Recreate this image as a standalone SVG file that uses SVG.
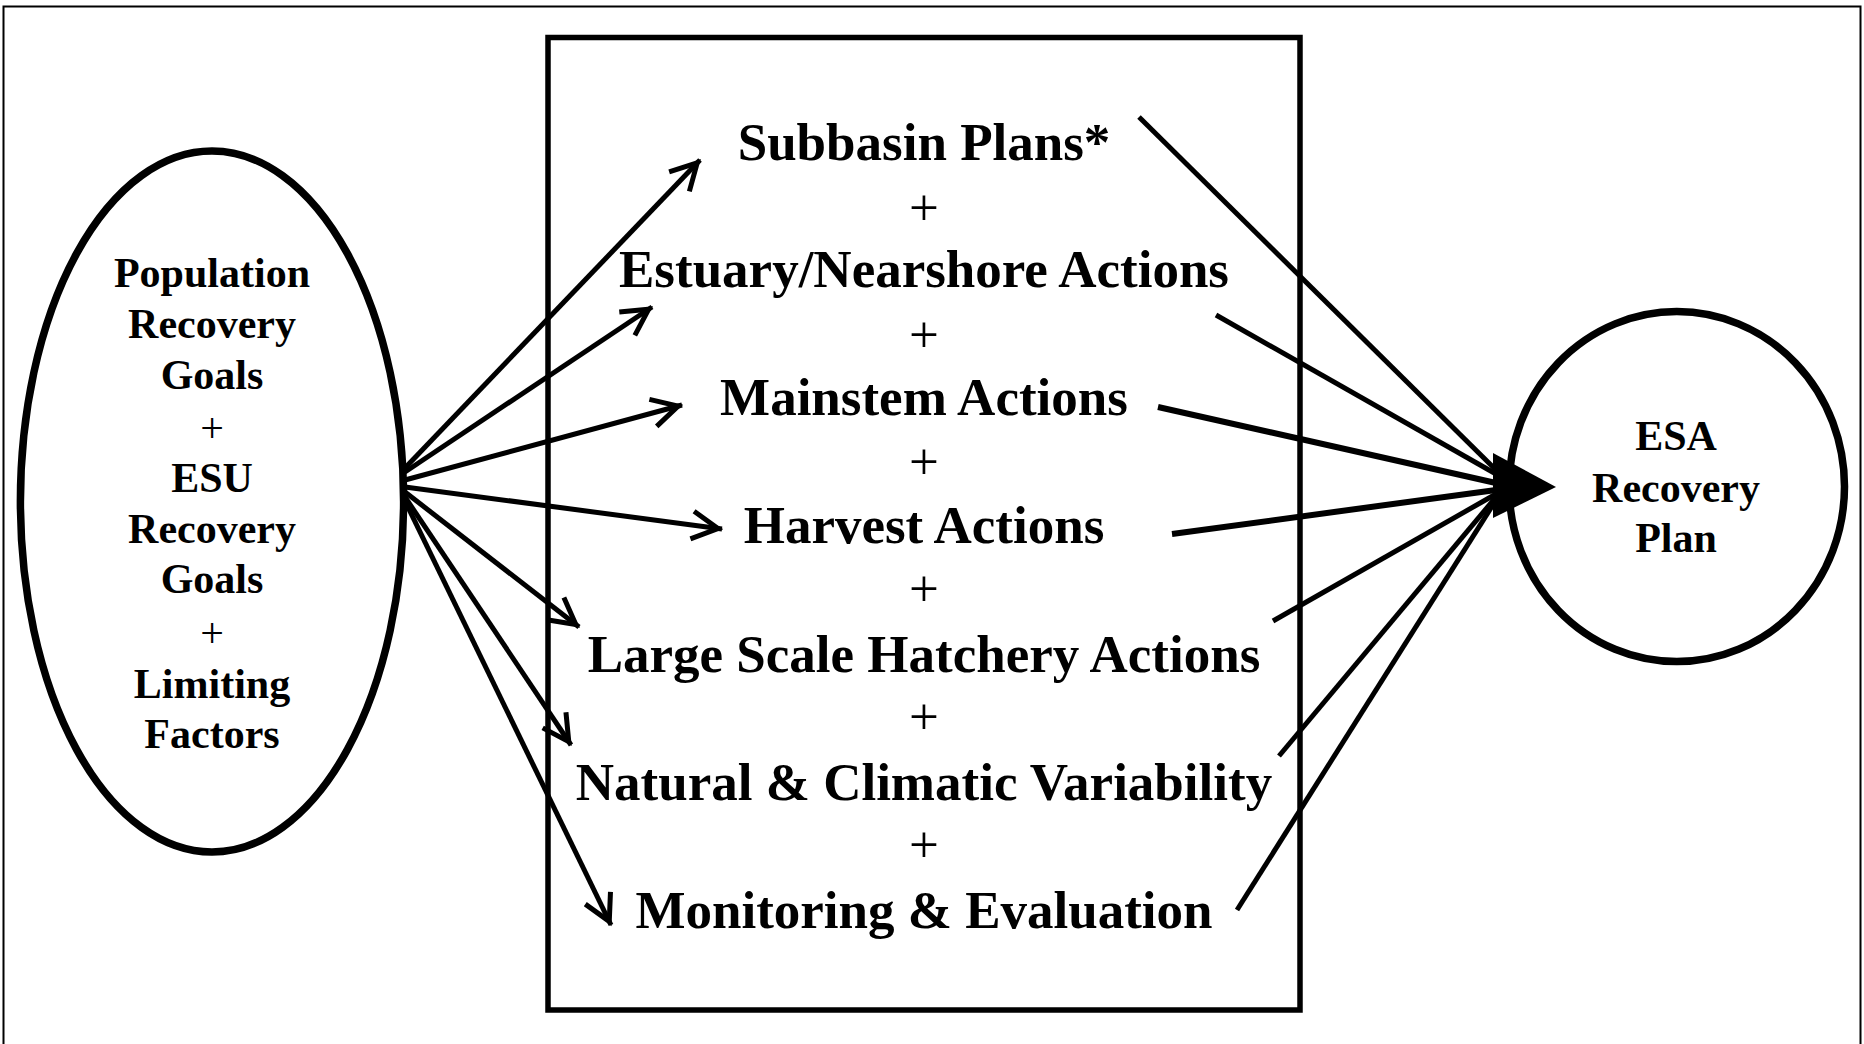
<svg xmlns="http://www.w3.org/2000/svg" width="1864" height="1044" viewBox="0 0 1864 1044">
<style>
.b{font-family:"Liberation Serif","Times New Roman",serif;font-weight:bold;fill:#000;text-anchor:middle}
.p{font-family:"Liberation Serif","Times New Roman",serif;font-weight:normal;fill:#000;text-anchor:middle}
.s{font-size:42px}
.m{font-size:53px}
.ln{stroke:#000;stroke-width:5;fill:none}
</style>
<defs>
<marker id="arr" markerUnits="userSpaceOnUse" viewBox="-40 -20 50 40" markerWidth="50" markerHeight="40" refX="4" refY="0" orient="auto" overflow="visible">
<path d="M-26,-14 L0,0 L-26,14" fill="none" stroke="#000" stroke-width="5" stroke-linejoin="miter" stroke-miterlimit="10"/>
</marker>
</defs>
<rect x="0" y="0" width="1864" height="1044" fill="#fff"/>
<rect id="frame" x="3.5" y="6.5" width="1857" height="1100" fill="none" stroke="#000" stroke-width="2"/>

<g id="goals">
<ellipse cx="212" cy="501.5" rx="191.6" ry="350.5" fill="none" stroke="#000" stroke-width="7.5"/>
<text class="b s" x="212" y="287">Population</text>
<text class="b s" x="212" y="338">Recovery</text>
<text class="b s" x="212" y="389">Goals</text>
<text class="p s" x="212" y="442">+</text>
<text class="b s" x="212" y="492">ESU</text>
<text class="b s" x="212" y="543">Recovery</text>
<text class="b s" x="212" y="593">Goals</text>
<text class="p s" x="212" y="647">+</text>
<text class="b s" x="212" y="698">Limiting</text>
<text class="b s" x="212" y="748">Factors</text>
</g>

<g id="actions">
<rect x="548" y="37.5" width="752" height="972.5" fill="none" stroke="#000" stroke-width="5.5"/>
<text class="b m" x="924" y="160">Subbasin Plans*</text>
<text class="p m" x="924" y="225">+</text>
<text class="b m" x="924" y="287">Estuary/Nearshore Actions</text>
<text class="p m" x="924" y="352">+</text>
<text class="b m" x="924" y="415">Mainstem Actions</text>
<text class="p m" x="924" y="479">+</text>
<text class="b m" x="924" y="543">Harvest Actions</text>
<text class="p m" x="924" y="606">+</text>
<text class="b m" x="924" y="672">Large Scale Hatchery Actions</text>
<text class="p m" x="924" y="734">+</text>
<text class="b m" x="924" y="800">Natural &amp; Climatic Variability</text>
<text class="p m" x="924" y="862">+</text>
<text class="b m" x="924" y="928">Monitoring &amp; Evaluation</text>
</g>

<g id="esa">
<ellipse cx="1676.8" cy="486.6" rx="167.7" ry="175" fill="none" stroke="#000" stroke-width="7.5"/>
<text class="b s" x="1676" y="450">ESA</text>
<text class="b s" x="1676" y="502">Recovery</text>
<text class="b s" x="1676" y="552">Plan</text>
</g>

<g id="connectors">
<line class="ln" x1="405" y1="468" x2="700" y2="160" marker-end="url(#arr)"/>
<line class="ln" x1="405" y1="472" x2="652" y2="307" marker-end="url(#arr)"/>
<line class="ln" x1="405" y1="480" x2="682" y2="405" marker-end="url(#arr)"/>
<line class="ln" x1="405" y1="487" x2="722" y2="529" marker-end="url(#arr)"/>
<line class="ln" x1="405" y1="492" x2="579" y2="627" marker-end="url(#arr)"/>
<line class="ln" x1="405" y1="497" x2="571" y2="745" marker-end="url(#arr)"/>
<line class="ln" x1="405" y1="501" x2="611" y2="925" marker-end="url(#arr)"/>

<line class="ln" x1="1139" y1="117" x2="1496" y2="470"/>
<line class="ln" x1="1216" y1="315" x2="1496" y2="474"/>
<line class="ln" x1="1158" y1="407" x2="1496" y2="483" style="stroke-width:6"/>
<line class="ln" x1="1172" y1="534" x2="1496" y2="490" style="stroke-width:6"/>
<line class="ln" x1="1273" y1="621" x2="1496" y2="494"/>
<line class="ln" x1="1279" y1="756" x2="1496" y2="497"/>
<line class="ln" x1="1237" y1="910" x2="1496" y2="500"/>
<polygon points="1493,453 1556,487 1493,518" fill="#000"/>
</g>
</svg>
